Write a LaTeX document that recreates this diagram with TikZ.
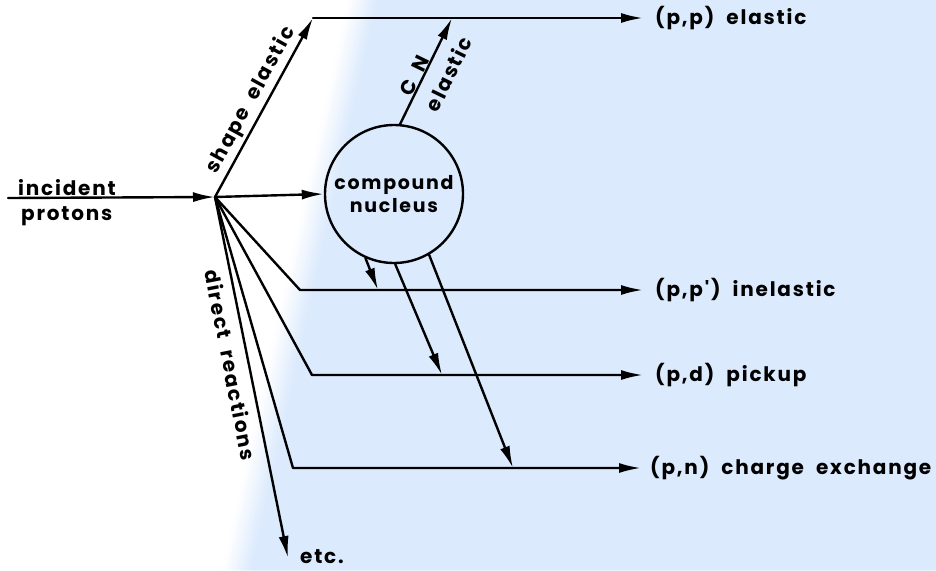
\documentclass[tikz,border=0pt]{standalone}
\usepackage{fontspec}
\setmainfont{Poppins}
\newfontfamily\lbl{Poppins}[LetterSpace=9,WordSpace=2]
\usetikzlibrary{arrows.meta}
\definecolor{bgblue}{RGB}{219,234,253}
\begin{document}
\begin{tikzpicture}[x=1pt,y=-1pt,
  ln/.style={line width=2.4pt, line cap=round, line join=round},
  arr/.style={ln, -{Latex[length=22pt,width=10pt]}},
  txt/.style={font=\lbl\fontseries{sb}\selectfont\fontsize{20pt}{23pt}\selectfont, inner sep=0pt},
  lab/.style={txt, anchor=west, inner xsep=12pt}]
\useasboundingbox (0,0) rectangle (936,570);
\fill[white] (0,0) rectangle (936,570);
% soft-edged blue background
\foreach \k in {0,...,9}{
  \pgfmathsetmacro{\pc}{\k*10+5}
  \fill[bgblue!\pc!white] ({348+3*\k},0) -- (936,0) -- (936,570) -- ({222+3*\k},570) -- cycle;
}
\fill[bgblue] (378,0) -- (936,0) -- (936,570) -- (252,570) -- cycle;

% points
\coordinate (S) at (8,198);
\coordinate (V) at (215,197);
\coordinate (T1) at (313,18);
\coordinate (C1) at (300,290);
\coordinate (C2) at (312,375);
\coordinate (C3) at (293,468);
\coordinate (E) at (288,558);
\coordinate (CNe) at (452,18);
\coordinate (A1) at (378,290);
\coordinate (A2) at (442,375);
\coordinate (A3) at (513,468);

% nodes
\node[ln, draw, circle, minimum size=138pt, inner sep=0pt, txt, font=\lbl\fontseries{sb}\selectfont\fontsize{19pt}{23pt}\selectfont, align=center] (cn) at (394,194) {compound\\nucleus};
\node[lab] (pp) at (643,18) {(p,p) elastic};
\node[lab] (ppp) at (643,290) {(p,p') inelastic};
\node[lab] (pd) at (643,375) {(p,d) pickup};
\node[lab, inner xsep=9pt] (pn) at (641,468) {(p,n) charge exchange};
\node[txt, anchor=base west] (inc) at (18,195) {incident};
\node[txt, anchor=base west] (pro) at (21,220) {protons};
\node[txt, anchor=base west] (etc) at (300,563) {etc.};
\node[txt, rotate=-78.9] (dr) at (231,365) {direct reactions};

% connectors
\draw[arr] (S) -- (V);
\draw[arr] (V) -- node[txt, sloped, above, inner sep=3pt, pos=0.5] (se) {shape elastic} (T1);
\draw[arr] (T1) -- (pp.west);
\draw[arr] (V) -- (cn.west);
\draw[arr] (cn.85) -- node[txt, sloped, above, pos=0.42, inner sep=0pt] (cnl) {C N}
  node[txt, sloped, below, pos=0.56, inner sep=12pt] (cnel) {elastic} (CNe);
\draw[arr] (V) -- (C1) -- (ppp.west);
\draw[arr] (V) -- (C2) -- (pd.west);
\draw[arr] (V) -- (C3) -- (pn.west);
\draw[arr] (V) -- (E);
\draw[arr] (cn.-114.7) -- (A1);
\draw[arr] (cn.-89.2) -- (A2);
\draw[arr] (cn.-60.3) -- (A3);
\end{tikzpicture}
\end{document}
